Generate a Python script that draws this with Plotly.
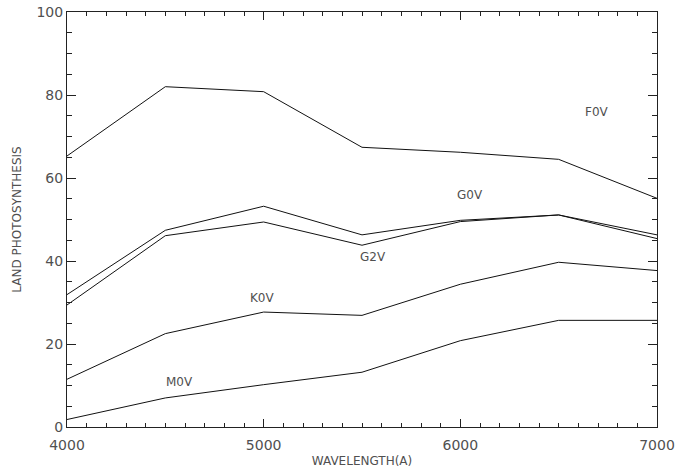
import plotly.graph_objects as go

wavelength = [4000, 4500, 5000, 5500, 6000, 6500, 7000]
f0v = [65.3, 82.0, 80.8, 67.4, 66.2, 64.5, 55.1]
g0v = [31.9, 47.4, 53.2, 46.3, 49.8, 51.1, 46.3]
g2v = [29.4, 46.1, 49.4, 43.8, 49.5, 51.1, 45.4]
k0v = [11.5, 22.5, 27.7, 26.9, 34.4, 39.7, 37.7]
m0v = [1.8, 7.0, 10.2, 13.2, 20.8, 25.7, 25.7]

label_text = ["F0V", "G0V", "G2V", "K0V", "M0V"]
label_x = [6694, 6049, 5556, 4996, 4570]
label_y = [76, 56, 40.9, 31, 10.8]

FONT = "DejaVu Sans"
TXT = "#505050"

fig = go.Figure()
for ys in [f0v, g0v, g2v, k0v, m0v]:
    fig.add_trace(go.Scatter(x=wavelength, y=ys, mode="lines",
                             line=dict(color="#111111", width=1), showlegend=False))

for t, x, y in zip(label_text, label_x, label_y):
    fig.add_annotation(x=x, y=y, text=t, showarrow=False,
                       font=dict(family=FONT, size=12, color=TXT))

axis_common = dict(showgrid=False, zeroline=False, showline=True, linecolor="#222222",
                   linewidth=1, mirror="ticks", ticks="inside", tickcolor="#222222",
                   automargin=False,
                   tickfont=dict(family=FONT, size=14, color=TXT))

fig.update_xaxes(range=[4000, 7000], dtick=1000, ticklen=8, ticklabelstandoff=5,
                 minor=dict(dtick=100, ticklen=4, ticks="inside", tickcolor="#222222"),
                 title=dict(text="WAVELENGTH(A)", standoff=4,
                            font=dict(family=FONT, size=12, color=TXT)),
                 **axis_common)
fig.update_yaxes(range=[0, 100], dtick=20, ticklen=9,
                 minor=dict(dtick=5, ticklen=5, ticks="inside", tickcolor="#222222"),
                 title=dict(text="LAND PHOTOSYNTHESIS", standoff=12,
                            font=dict(family=FONT, size=12, color=TXT)),
                 **axis_common)

fig.update_layout(width=677, height=470, plot_bgcolor="white", paper_bgcolor="white",
                  margin=dict(l=67, r=20, t=12, b=43))
# remove the browser's default 8px body margin so the figure sits at the page origin
fig.write_html("out.html", config={"displayModeBar": False},
               post_script="document.body.style.margin='0';")
